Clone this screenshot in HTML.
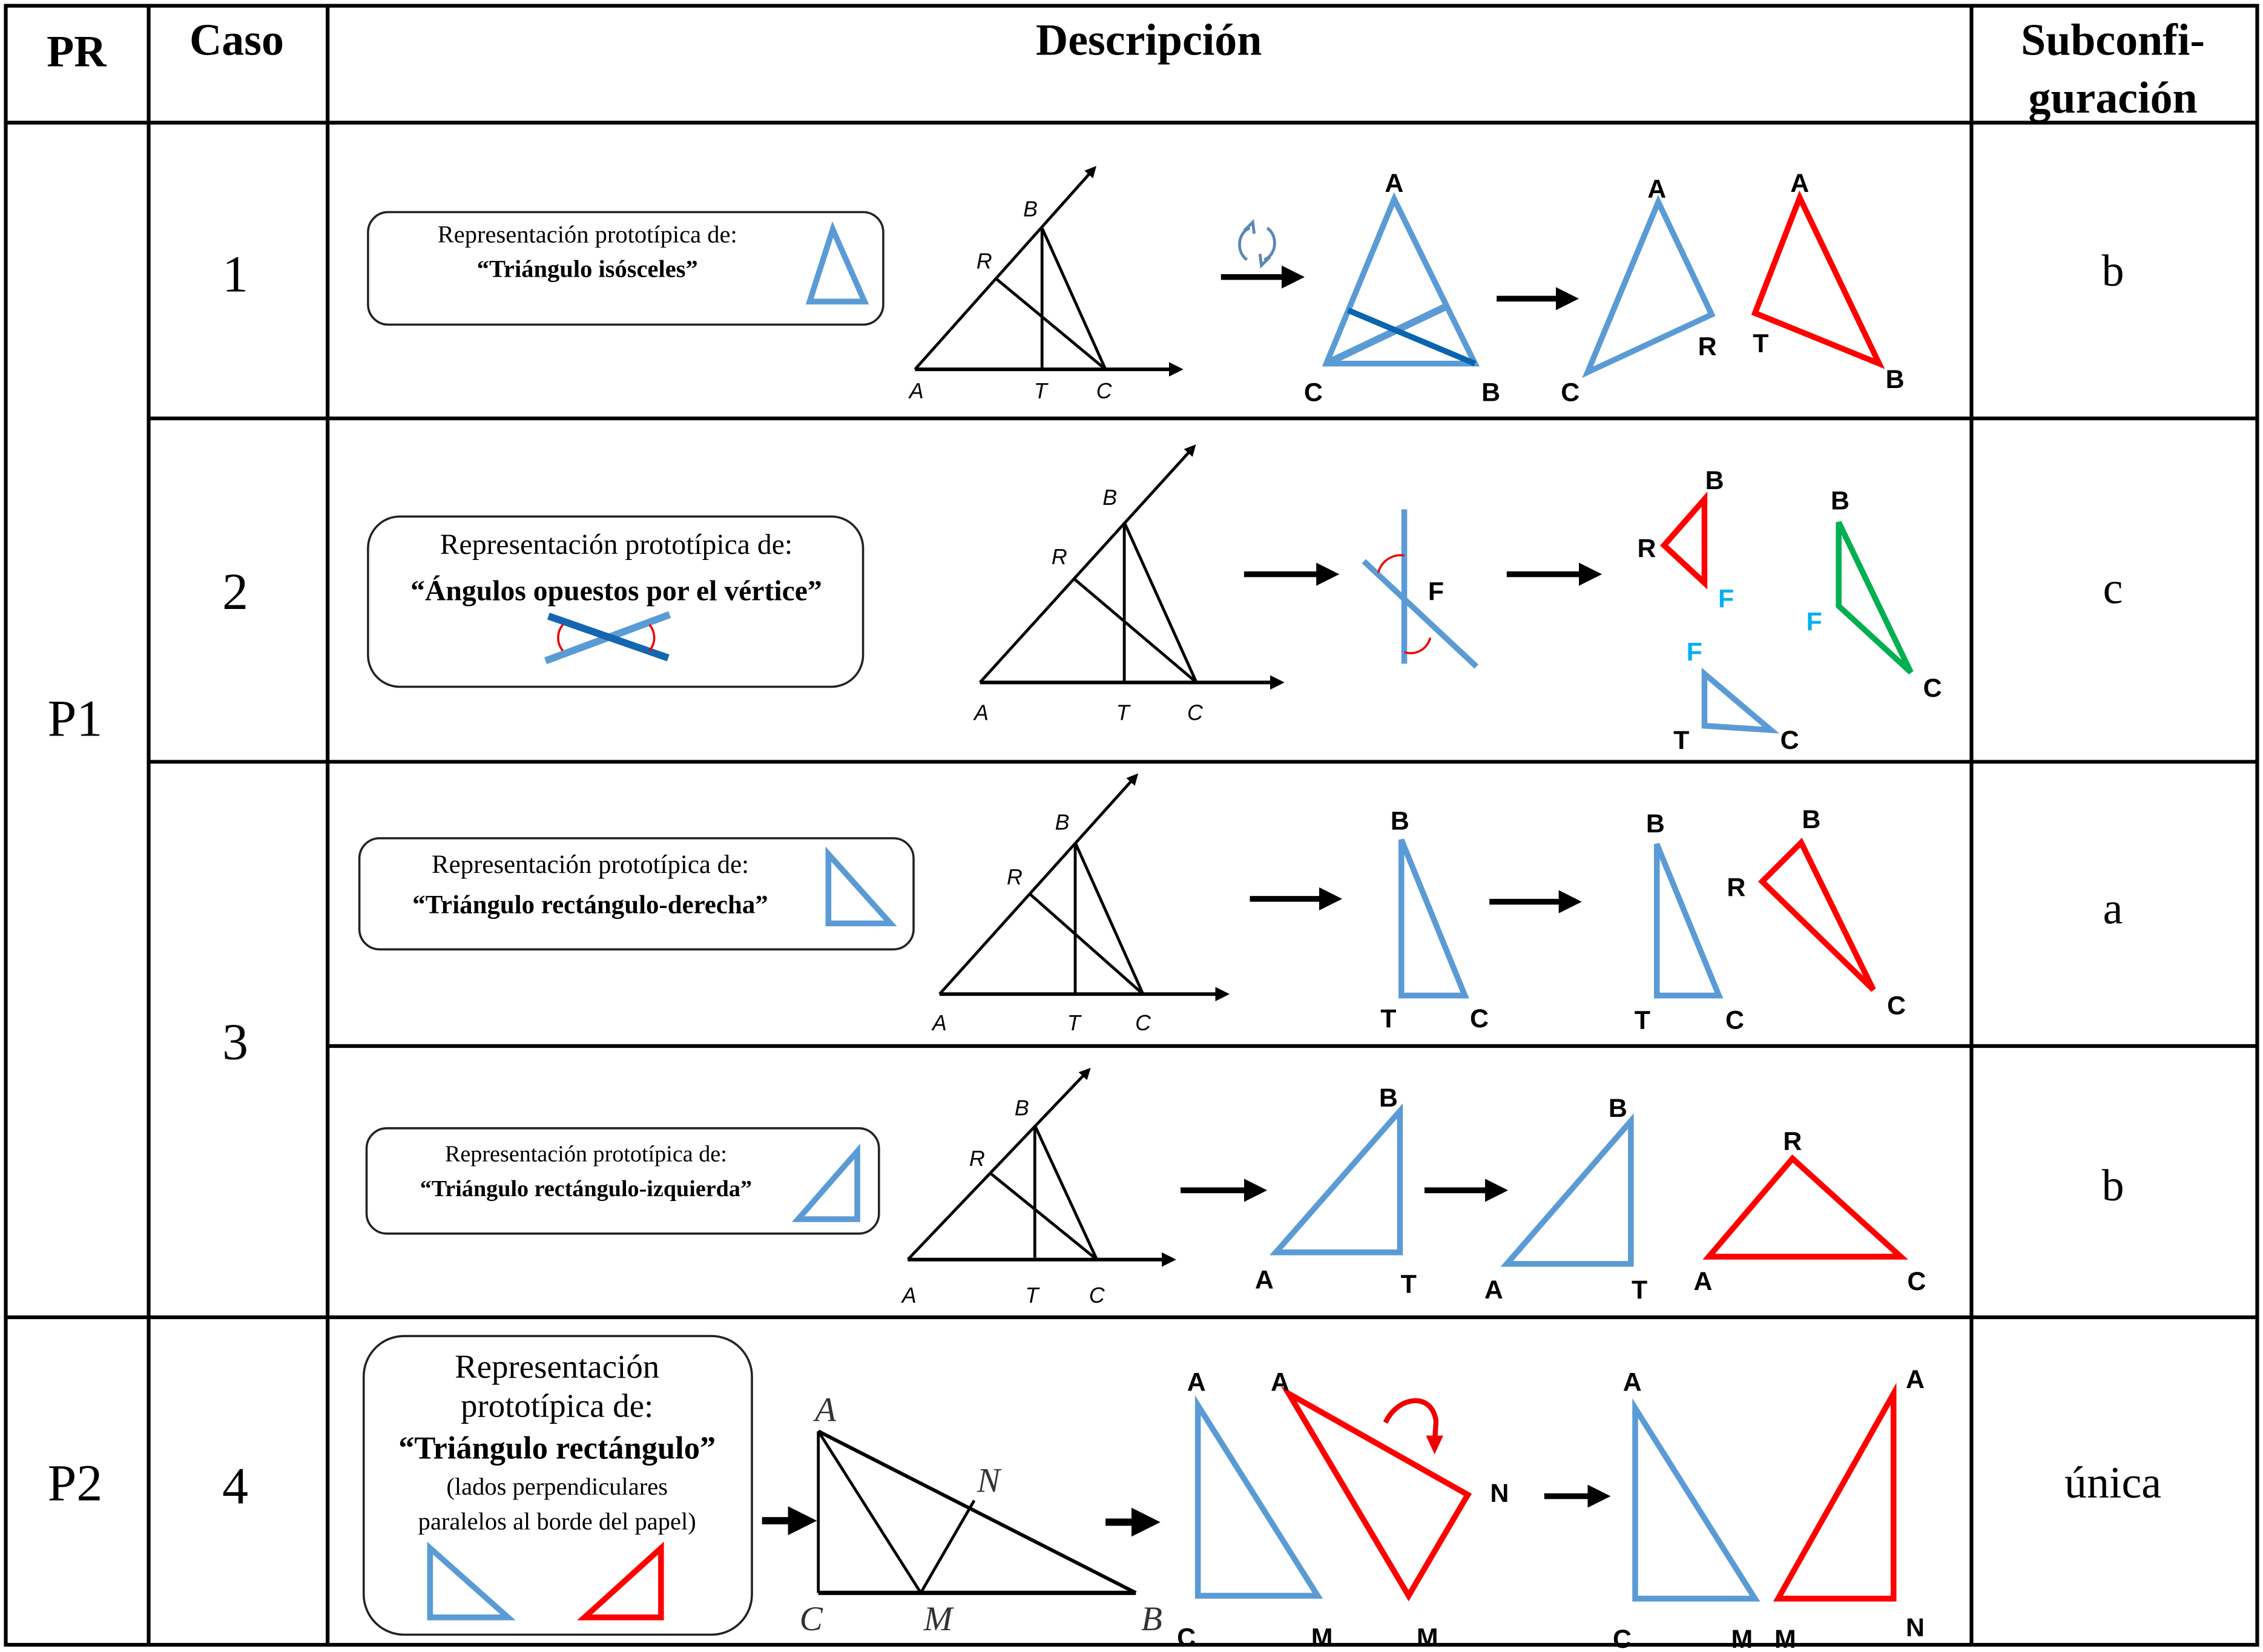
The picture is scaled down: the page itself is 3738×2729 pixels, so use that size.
<!DOCTYPE html>
<html><head><meta charset="utf-8"><style>
html,body{margin:0;padding:0;background:#fff;}
svg{display:block;}
.hd{font-family:"Liberation Serif",serif;font-weight:bold;font-size:31px;text-anchor:middle;}
.num{font-family:"Liberation Serif",serif;font-size:36px;text-anchor:middle;}
.sub{font-family:"Liberation Serif",serif;font-size:31px;text-anchor:middle;}
.bx{font-family:"Liberation Serif",serif;text-anchor:middle;}
.lb{font-family:"Liberation Sans",sans-serif;font-weight:bold;font-size:18px;text-anchor:middle;}
.it{font-family:"Liberation Sans",sans-serif;font-style:italic;font-size:15px;text-anchor:middle;}
.its{font-family:"Liberation Serif",serif;font-style:italic;font-size:24px;text-anchor:middle;fill:#333;}
.bl{fill:none;stroke:#5b9bd5;stroke-width:4;stroke-linejoin:miter;}
.rd{fill:none;stroke:#ff0000;stroke-width:4;}
.gr{fill:none;stroke:#00b050;stroke-width:4;}
.k{stroke:#000;stroke-width:2;fill:none;}
.ar{stroke:#000;stroke-width:4;marker-end:url(#ah);}
.cy{fill:#00b0f0;}
</style></head><body>
<svg width="3738" height="2729" viewBox="0 0 1568 1145" preserveAspectRatio="none" xmlns="http://www.w3.org/2000/svg">
<defs>
<marker id="ah" markerWidth="4" markerHeight="4" refX="2" refY="2" orient="auto" markerUnits="strokeWidth"><path d="M0,0 L4,2 L0,4 z" fill="#000"/></marker>
</defs>
<rect width="1568" height="1145" fill="#fff"/>
<g stroke="#000" stroke-width="2.6" fill="none">
<rect x="4" y="4" width="1560" height="1136"/>
<line x1="103" y1="4" x2="103" y2="1140"/>
<line x1="227" y1="4" x2="227" y2="1140"/>
<line x1="1366" y1="4" x2="1366" y2="1140"/>
<line x1="4" y1="85" x2="1564" y2="85"/>
<line x1="103" y1="290" x2="1564" y2="290"/>
<line x1="103" y1="528" x2="1564" y2="528"/>
<line x1="227" y1="725" x2="1564" y2="725"/>
<line x1="4" y1="913" x2="1564" y2="913"/>
</g>
<text class="hd" x="53" y="46" font-size="38">PR</text>
<text class="hd" x="164" y="38" font-size="33">Caso</text>
<text class="hd" x="796" y="38" font-size="33">Descripción</text>
<text class="hd" x="1464" y="38" font-size="33">Subconfi-</text>
<text class="hd" x="1464" y="78" font-size="33">guración</text>
<text class="num" x="52" y="510" font-size="32">P1</text>
<text class="num" x="52" y="1040" font-size="32">P2</text>
<text class="num" x="163" y="202">1</text>
<text class="num" x="163" y="422">2</text>
<text class="num" x="163" y="734">3</text>
<text class="num" x="163" y="1042">4</text>
<text class="sub" x="1464" y="198">b</text>
<text class="sub" x="1464" y="418">c</text>
<text class="sub" x="1464" y="640">a</text>
<text class="sub" x="1464" y="832">b</text>
<text class="sub" x="1464" y="1038">única</text>

<!-- ROW 1 -->
<rect x="255" y="147" width="357" height="78" rx="14" fill="#fff" stroke="#222" stroke-width="1.5"/>
<text class="bx" x="407" y="168" font-size="17">Representación prototípica de:</text>
<text class="bx" x="407" y="192" font-size="17" font-weight="bold">“Triángulo isósceles”</text>
<polygon class="bl" points="577,159 561,209 599,209"/>
<g class="k">
<line x1="634" y1="256" x2="757" y2="118" class="ar" style="stroke-width:2"/>
<line x1="634" y1="256" x2="815" y2="256" class="ar" style="stroke-width:2.5"/>
<line x1="722" y1="158" x2="722" y2="256"/>
<line x1="722" y1="158" x2="766" y2="256"/>
<line x1="690" y1="193" x2="766" y2="256"/>
</g>
<text class="it" x="714" y="150">B</text><text class="it" x="682" y="186">R</text>
<text class="it" x="635" y="276">A</text><text class="it" x="721" y="276">T</text><text class="it" x="765" y="276">C</text>
<g fill="none" stroke="#5b87b5" stroke-width="2"><path d="M866,158 A10,12 0 0 0 864,180"/><path d="M876,180 A10,12 0 0 0 878,158"/><path d="M862,160 L868,154 L869,162"/><path d="M880,178 L874,184 L873,176"/></g>
<line x1="846" y1="192" x2="896" y2="192" class="ar"/>
<polygon class="bl" points="966,138 919,252 1022,252"/>
<line x1="919" y1="252" x2="1003" y2="212" stroke="#5b9bd5" stroke-width="5"/>
<line x1="934" y1="215" x2="1022" y2="252" stroke="#0a64b0" stroke-width="4"/>
<text class="lb" x="966" y="133">A</text><text class="lb" x="910" y="278">C</text><text class="lb" x="1033" y="278">B</text>
<line x1="1037" y1="207" x2="1086" y2="207" class="ar"/>
<polygon class="bl" points="1149,140 1186,218 1100,258"/>
<text class="lb" x="1148" y="137">A</text><text class="lb" x="1183" y="246">R</text><text class="lb" x="1088" y="278">C</text>
<polygon class="rd" points="1247,137 1216,217 1302,252"/>
<text class="lb" x="1247" y="133">A</text><text class="lb" x="1220" y="244">T</text><text class="lb" x="1313" y="269">B</text>

<!-- ROW 2 -->
<rect x="255" y="358" width="343" height="118" rx="22" fill="#fff" stroke="#222" stroke-width="1.5"/>
<text class="bx" x="427" y="384" font-size="20">Representación prototípica de:</text>
<text class="bx" x="427" y="416" font-size="20" font-weight="bold">“Ángulos opuestos por el vértice”</text>
<line x1="378" y1="458" x2="464" y2="426" stroke="#5b9bd5" stroke-width="5"/>
<line x1="380" y1="427" x2="463" y2="456" stroke="#1566b0" stroke-width="5"/>
<path d="M390,433 A14,14 0 0 0 390,451" fill="none" stroke="#e00" stroke-width="1.5"/>
<path d="M450,433 A14,14 0 0 1 450,451" fill="none" stroke="#e00" stroke-width="1.5"/>
<g class="k">
<line x1="679" y1="473" x2="826" y2="311" class="ar" style="stroke-width:2"/>
<line x1="679" y1="473" x2="885" y2="473" class="ar" style="stroke-width:2.5"/>
<line x1="779" y1="362" x2="779" y2="473"/>
<line x1="779" y1="362" x2="829" y2="473"/>
<line x1="744" y1="401" x2="829" y2="473"/>
</g>
<text class="it" x="769" y="350">B</text><text class="it" x="734" y="391">R</text>
<text class="it" x="680" y="499">A</text><text class="it" x="778" y="499">T</text><text class="it" x="828" y="499">C</text>
<line x1="862" y1="398" x2="920" y2="398" class="ar"/>
<line x1="973" y1="353" x2="973" y2="460" stroke="#5b9bd5" stroke-width="4"/>
<line x1="945" y1="389" x2="1023" y2="462" stroke="#5b9bd5" stroke-width="4"/>
<path d="M955,397 A16,16 0 0 1 973,385" fill="none" stroke="#e00" stroke-width="1.5"/>
<path d="M973,452 A14,14 0 0 0 991,442" fill="none" stroke="#e00" stroke-width="1.5"/>
<text class="lb" x="995" y="416">F</text>
<line x1="1044" y1="398" x2="1102" y2="398" class="ar"/>
<polygon class="rd" points="1181,346 1153,378 1181,404"/>
<text class="lb" x="1188" y="339">B</text><text class="lb" x="1141" y="386">R</text><text class="lb cy" x="1196" y="421">F</text>
<polygon class="gr" points="1274,362 1274,420 1324,466"/>
<text class="lb" x="1275" y="353">B</text><text class="lb cy" x="1257" y="437">F</text><text class="lb" x="1339" y="483">C</text>
<polygon class="bl" points="1181,467 1181,503 1227,506"/>
<text class="lb cy" x="1174" y="458">F</text><text class="lb" x="1165" y="519">T</text><text class="lb" x="1240" y="519">C</text>

<!-- ROW 3a -->
<rect x="249" y="581" width="384" height="77" rx="14" fill="#fff" stroke="#222" stroke-width="1.5"/>
<text class="bx" x="409" y="605" font-size="18">Representación prototípica de:</text>
<text class="bx" x="409" y="633" font-size="18" font-weight="bold">“Triángulo rectángulo-derecha”</text>
<polygon class="bl" points="574,592 574,640 617,640"/>
<g class="k">
<line x1="651" y1="689" x2="786" y2="539" class="ar" style="stroke-width:2"/>
<line x1="651" y1="689" x2="847" y2="689" class="ar" style="stroke-width:2.5"/>
<line x1="745" y1="584" x2="745" y2="689"/>
<line x1="745" y1="584" x2="792" y2="689"/>
<line x1="714" y1="620" x2="792" y2="689"/>
</g>
<text class="it" x="736" y="575">B</text><text class="it" x="703" y="613">R</text>
<text class="it" x="651" y="714">A</text><text class="it" x="744" y="714">T</text><text class="it" x="792" y="714">C</text>
<line x1="866" y1="623" x2="922" y2="623" class="ar"/>
<polygon class="bl" points="971,582 971,690 1015,690"/>
<text class="lb" x="970" y="575">B</text><text class="lb" x="962" y="712">T</text><text class="lb" x="1025" y="712">C</text>
<line x1="1032" y1="625" x2="1088" y2="625" class="ar"/>
<polygon class="bl" points="1148,585 1148,690 1191,690"/>
<text class="lb" x="1147" y="577">B</text><text class="lb" x="1138" y="713">T</text><text class="lb" x="1202" y="713">C</text>
<polygon class="rd" points="1248,584 1221,611 1298,686"/>
<text class="lb" x="1255" y="574">B</text><text class="lb" x="1203" y="621">R</text><text class="lb" x="1314" y="703">C</text>

<!-- ROW 3b -->
<rect x="254" y="782" width="355" height="73" rx="14" fill="#fff" stroke="#222" stroke-width="1.5"/>
<text class="bx" x="406" y="805" font-size="16">Representación prototípica de:</text>
<text class="bx" x="406" y="829" font-size="16" font-weight="bold">“Triángulo rectángulo-izquierda”</text>
<polygon class="bl" points="594,798 553,845 594,845"/>
<g class="k">
<line x1="629" y1="873" x2="753" y2="743" class="ar" style="stroke-width:2"/>
<line x1="629" y1="873" x2="810" y2="873" class="ar" style="stroke-width:2.5"/>
<line x1="717" y1="780" x2="717" y2="873"/>
<line x1="717" y1="780" x2="760" y2="873"/>
<line x1="686" y1="813" x2="760" y2="873"/>
</g>
<text class="it" x="708" y="773">B</text><text class="it" x="677" y="808">R</text>
<text class="it" x="630" y="903">A</text><text class="it" x="715" y="903">T</text><text class="it" x="760" y="903">C</text>
<line x1="818" y1="825" x2="870" y2="825" class="ar"/>
<polygon class="bl" points="970,770 970,868 884,868"/>
<text class="lb" x="962" y="767">B</text><text class="lb" x="876" y="893">A</text><text class="lb" x="976" y="896">T</text>
<line x1="987" y1="825" x2="1037" y2="825" class="ar"/>
<polygon class="bl" points="1130,777 1130,876 1044,876"/>
<text class="lb" x="1121" y="774">B</text><text class="lb" x="1035" y="900">A</text><text class="lb" x="1136" y="900">T</text>
<polygon class="rd" points="1242,803 1184,871 1317,871"/>
<text class="lb" x="1242" y="797">R</text><text class="lb" x="1180" y="894">A</text><text class="lb" x="1328" y="894">C</text>

<!-- ROW 4 -->
<rect x="252" y="926" width="269" height="207" rx="28" fill="#fff" stroke="#222" stroke-width="1.5"/>
<text class="bx" x="386" y="955" font-size="23">Representación</text>
<text class="bx" x="386" y="982" font-size="23">prototípica de:</text>
<text class="bx" x="386" y="1011" font-size="22" font-weight="bold">“Triángulo rectángulo”</text>
<text class="bx" x="386" y="1036" font-size="17">(lados perpendiculares</text>
<text class="bx" x="386" y="1060" font-size="17">paralelos al borde del papel)</text>
<polygon class="bl" points="298,1073 298,1121 352,1121"/>
<polygon class="rd" points="458,1073 458,1121 405,1121"/>
<line x1="528" y1="1054" x2="556" y2="1054" class="ar" style="stroke-width:5"/>
<g class="k">
<line x1="567" y1="992" x2="567" y2="1104"/>
<line x1="567" y1="1104" x2="787" y2="1104" style="stroke-width:3"/>
<line x1="567" y1="992" x2="787" y2="1104" style="stroke-width:2.5"/>
<line x1="567" y1="992" x2="638" y2="1104"/>
<line x1="638" y1="1104" x2="675" y2="1040"/>
</g>
<text class="its" x="572" y="985">A</text><text class="its" x="685" y="1034">N</text>
<text class="its" x="562" y="1130">C</text><text class="its" x="650" y="1130">M</text><text class="its" x="798" y="1130">B</text>
<line x1="766" y1="1055" x2="794" y2="1055" class="ar" style="stroke-width:5"/>
<polygon class="bl" points="830,974 830,1106 913,1106"/>
<text class="lb" x="829" y="964" font-size="22">A</text><text class="lb" x="822" y="1141" font-size="22">C</text><text class="lb" x="916" y="1141" font-size="22">M</text>
<polygon class="rd" points="893,966 1017,1036 976,1106"/>
<text class="lb" x="887" y="964" font-size="22">A</text><text class="lb" x="1039" y="1041" font-size="22">N</text><text class="lb" x="989" y="1141" font-size="22">M</text>
<path d="M960,986 C968,968 992,964 995,985 L994,1001" fill="none" stroke="#e00" stroke-width="3.5"/>
<path d="M988,995 L994,1008 L1000,995 z" fill="#e00"/>
<line x1="1070" y1="1037" x2="1108" y2="1037" class="ar"/>
<polygon class="bl" points="1133,976 1133,1108 1216,1108"/>
<text class="lb" x="1131" y="964" font-size="22">A</text><text class="lb" x="1124" y="1142" font-size="22">C</text><text class="lb" x="1207" y="1142" font-size="22">M</text>
<polygon class="rd" points="1312,966 1312,1108 1232,1108"/>
<text class="lb" x="1327" y="962" font-size="22">A</text><text class="lb" x="1327" y="1134" font-size="22">N</text><text class="lb" x="1237" y="1142" font-size="22">M</text>
</svg>
</body></html>
